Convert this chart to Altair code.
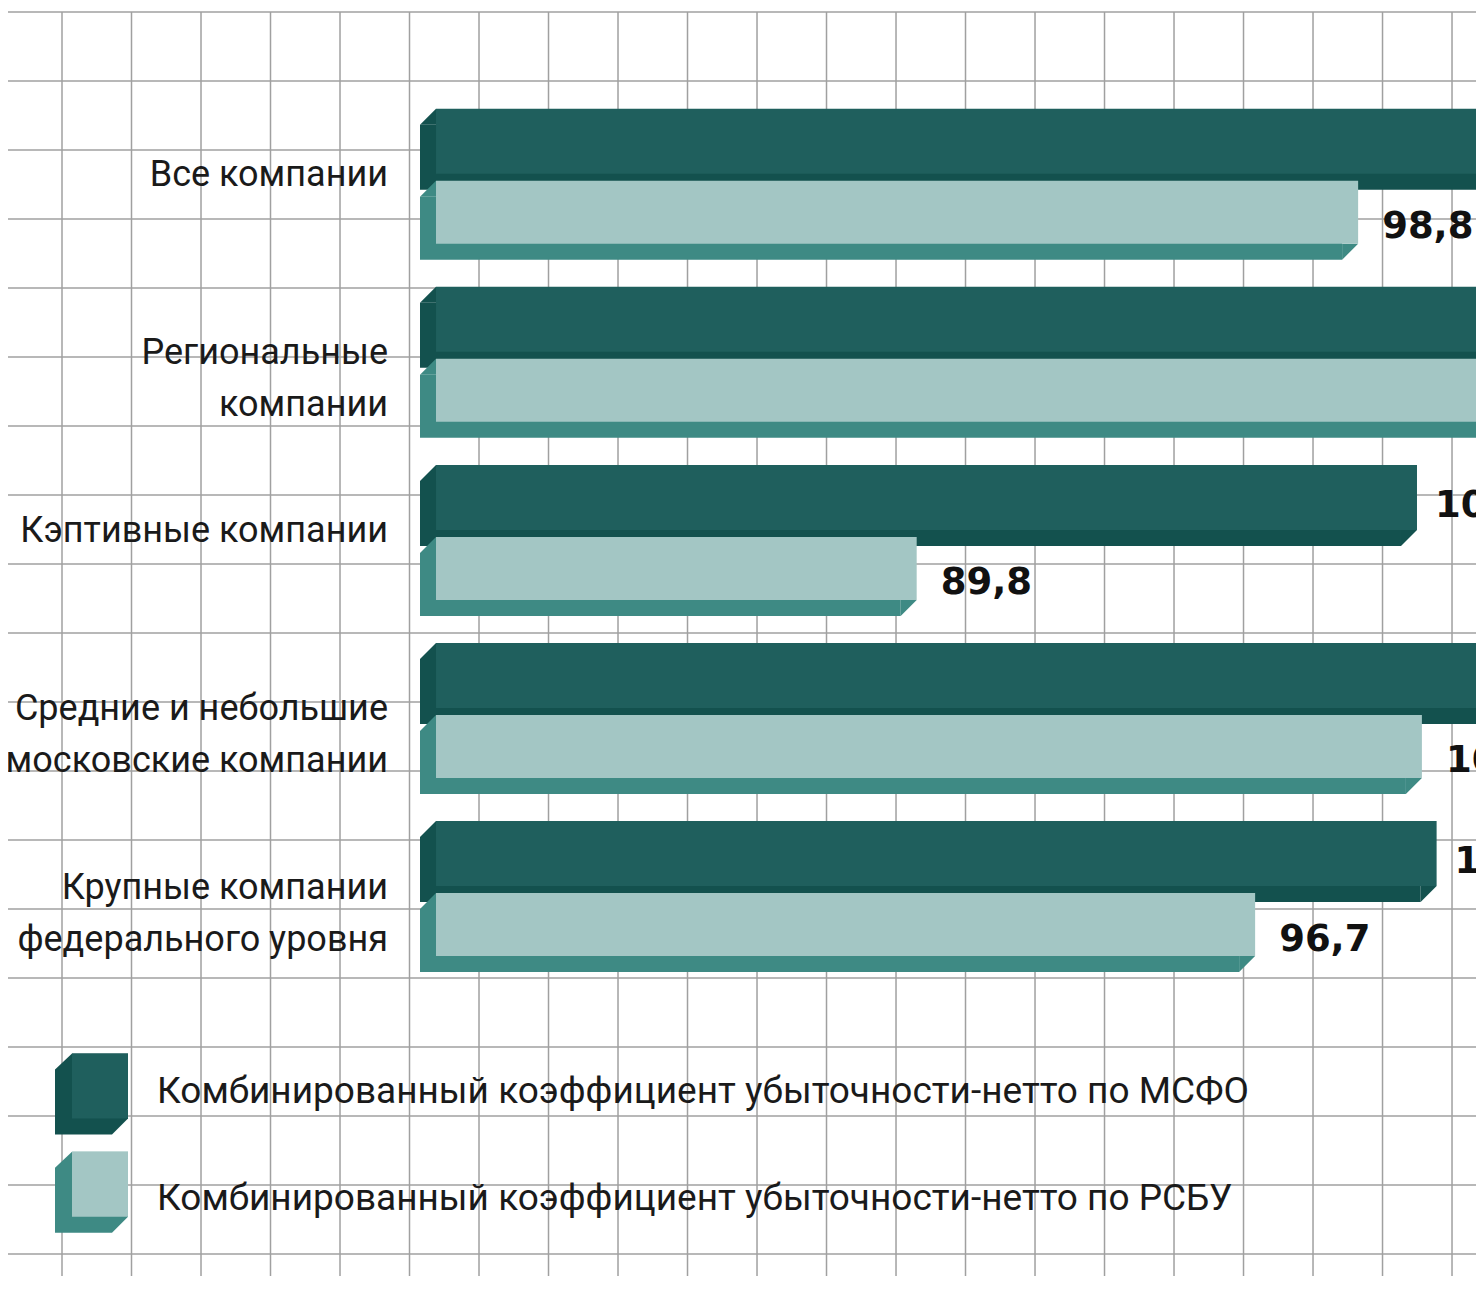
import altair as alt
import pandas as pd

# ---- data ----
categories = ["Все компании", "Региональные\nкомпании", "Кэптивные компании",
              "Средние и небольшие\nмосковские компании", "Крупные компании\nфедерального уровня"]
series = ["МСФО", "РСБУ"]
msfo = [103.4, 105.8, 100.0, 104.2, 100.4]
rsbu = [98.8, 102.6, 89.8, 100.1, 96.7]
legend_labels = ["Комбинированный коэффициент убыточности-нетто по МСФО",
                 "Комбинированный коэффициент убыточности-нетто по РСБУ"]
legend_rows = [5.1086, 5.6602]
base_value = 80

rows = []
for i, c in enumerate(categories):
    for s, vals in zip(series, [msfo, rsbu]):
        v = vals[i]
        rows.append(dict(cat=c, row=i, series=s, value=v, base=base_value,
                         label=f"{v:.1f}".replace(".", ",")))
df = pd.DataFrame(rows)
df_cat = pd.DataFrame({"cat": categories, "row": list(range(len(categories)))})
df_leg = pd.DataFrame({"series": series, "label": legend_labels, "row": legend_rows})

W, H = 1468, 1264
LABEL_FONT = "Roboto"

xs = alt.Scale(domain=[71.274, 101.203], nice=False, zero=False)
ys = alt.Scale(domain=[-0.89415, 6.1476], nice=False, zero=False, reverse=True)

style = {
    "МСФО": dict(front="#1f5f5d", side="#13514e", yoff=-35, size=65, lab=-26.5, dx=18, leg_dy=17),
    "РСБУ": dict(front="#a3c6c4", side="#3e8a84", yoff=36, size=63, lab=51, dx=24, leg_dy=26),
}
TL = "M1,-1L1,1L-1,1Z"
BR = "M1,-1L-1,-1L-1,1Z"
LEG_FRONT = "M-0.8615,-1L0.8615,-1L0.8615,1L-0.8615,1Z"
LEG_SIDE = "M-0.8615,-1L0.8615,-1L0.8615,1L0.3692,1.4923L-1.3846,1.4923L-1.3846,-0.5077Z"

layers = []
for s in series:
    st = style[s]
    b = alt.Chart(df).transform_filter(alt.datum.series == s)
    X = alt.X("value:Q", scale=xs, axis=None)
    Y = alt.Y("row:Q", scale=ys, axis=None)
    layers.append(b.mark_bar(size=st["size"], color=st["side"], xOffset=-16, x2Offset=-16,
                             yOffset=st["yoff"] + 16, clip=True)
                  .encode(x=X, x2="base:Q", y=Y))
    layers.append(b.mark_point(shape=TL, size=256, filled=True, color=st["side"], opacity=1,
                               strokeWidth=0, xOffset=-8,
                               yOffset=st["yoff"] - st["size"] / 2 + 8, clip=True)
                  .encode(x=alt.X("base:Q", scale=xs, axis=None), y=Y))
    layers.append(b.mark_point(shape=BR, size=256, filled=True, color=st["side"], opacity=1,
                               strokeWidth=0, xOffset=-8,
                               yOffset=st["yoff"] + st["size"] / 2 + 8, clip=True)
                  .encode(x=X, y=Y))
    layers.append(b.mark_bar(size=st["size"], color=st["front"], yOffset=st["yoff"], clip=True)
                  .encode(x=X, x2="base:Q", y=Y))

for s in series:
    st = style[s]
    b = alt.Chart(df).transform_filter(alt.datum.series == s)
    layers.append(b.mark_text(align="left", baseline="middle", dx=st["dx"], yOffset=st["lab"],
                              font="DejaVu Sans", fontWeight="bold", fontSize=37,
                              color="#111111", clip=True)
                  .encode(x=alt.X("value:Q", scale=xs, axis=None),
                          y=alt.Y("row:Q", scale=ys, axis=None), text="label:N"))

layers.append(alt.Chart(df_cat).mark_text(align="right", baseline="alphabetic", lineBreak="\n",
                                          lineHeight=52, font=LABEL_FONT, fontSize=36,
                                          color="#1a1a1a", dy=10)
              .encode(x=alt.value(380), y=alt.Y("row:Q", scale=ys, axis=None), text="cat:N"))

for s in series:
    st = style[s]
    lb = alt.Chart(df_leg).transform_filter(alt.datum.series == s)
    layers.append(lb.mark_point(shape=LEG_SIDE, size=4225, filled=True, color=st["side"],
                                opacity=1, strokeWidth=0)
                  .encode(x=alt.value(92), y=alt.Y("row:Q", scale=ys, axis=None)))
    layers.append(lb.mark_point(shape=LEG_FRONT, size=4225, filled=True, color=st["front"],
                                opacity=1, strokeWidth=0)
                  .encode(x=alt.value(92), y=alt.Y("row:Q", scale=ys, axis=None)))
    layers.append(lb.mark_text(align="left", baseline="alphabetic", dy=st["leg_dy"],
                               font=LABEL_FONT, fontSize=37, color="#1a1a1a")
                  .encode(x=alt.value(149), y=alt.Y("row:Q", scale=ys, axis=None),
                          text="label:N"))

main = alt.layer(*layers)

# graph-paper background
grid_x = list(range(21))
grid_y = list(range(19))
vgrid = alt.Chart(pd.DataFrame({"gx": grid_x})).mark_rule(color="#a0a0a0", strokeWidth=1.5).encode(
    x=alt.X("gx:Q", scale=alt.Scale(domain=[-0.777, 20.345], nice=False, zero=False), axis=None))
hgrid = alt.Chart(pd.DataFrame({"gy": grid_y})).mark_rule(color="#a0a0a0", strokeWidth=1.5).encode(
    y=alt.Y("gy:Q", scale=alt.Scale(domain=[0, H / 69.0], nice=False, zero=False, reverse=True),
            axis=None))
grid = alt.layer(vgrid, hgrid)

chart = (alt.layer(grid, main)
         .resolve_scale(x="independent", y="independent")
         .properties(width=W, height=H,
                     padding={"top": 4, "left": 0, "right": 0, "bottom": 0},
                     autosize=alt.AutoSizeParams(type="none"), background="white")
         .configure_view(stroke=None))

chart.save("out.html", embed_options={"renderer": "svg", "actions": False})
